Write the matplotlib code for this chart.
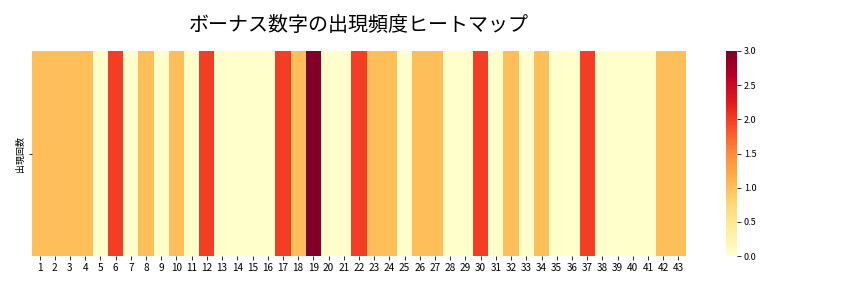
import numpy as np
import matplotlib
matplotlib.use("Agg")
import matplotlib.pyplot as plt
import seaborn as sns

plt.rcParams['font.family'] = ['Noto Sans CJK JP', 'DejaVu Sans']

# bonus number counts, 1..43
numbers = list(range(1, 44))
counts = [1, 1, 1, 1, 0, 2, 0, 1, 0, 1,
          0, 2, 0, 0, 0, 0, 2, 1, 3, 0,
          0, 2, 1, 1, 0, 1, 1, 0, 0, 2,
          0, 1, 0, 1, 0, 0, 2, 0, 0, 0,
          0, 1, 1]
row_label = ['出現回数']

data = np.array([counts])

fig = plt.figure(figsize=(12, 4), dpi=72)
ax = fig.add_axes([0.037, 0.111, 0.757, 0.712])
cax = fig.add_axes([726/864, 0.111, 11/864, 0.712])

sns.heatmap(data, cmap='YlOrRd', ax=ax, cbar_ax=cax,
            xticklabels=numbers, yticklabels=row_label)
ax.set_title('ボーナス数字の出現頻度ヒートマップ', fontsize=20, pad=20)
ax.tick_params(axis='x', labelsize=10, rotation=0)
ax.tick_params(axis='y', labelsize=9)
cax.tick_params(labelsize=9)

fig.savefig('out.png', dpi=72)
